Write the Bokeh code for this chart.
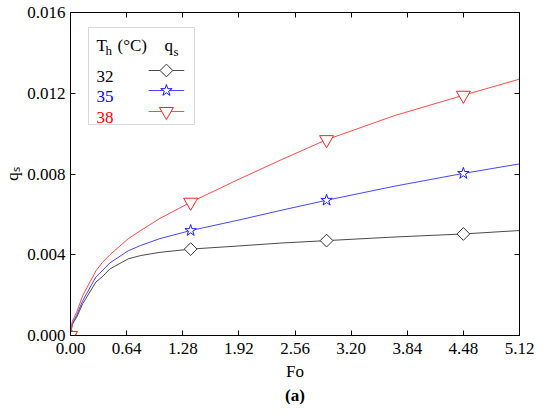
import numpy as np
from bokeh.plotting import figure
from bokeh.models import FixedTicker, LinearAxis, Label, BoxAnnotation, Range1d, Title
from bokeh.embed import file_html
from bokeh.resources import INLINE

# ---------------- data ----------------
fo = [0.0, 0.02, 0.07, 0.14, 0.29, 0.36, 0.45, 0.66, 0.80, 1.02, 1.37, 1.90, 2.40, 2.92, 3.70, 4.48, 5.12]
q_32 = [0.0, 0.00055, 0.0009, 0.00158, 0.00265, 0.0029, 0.0033, 0.0038, 0.00396, 0.00412, 0.00428, 0.00443, 0.00458, 0.0047, 0.00488, 0.00503, 0.0052]
q_35 = [0.0, 0.0006, 0.0010, 0.00173, 0.0029, 0.0032, 0.0036, 0.0042, 0.00446, 0.0048, 0.0052, 0.0057, 0.0062, 0.0067, 0.0074, 0.00803, 0.0085]
q_38 = [0.0, 0.0007, 0.00115, 0.00198, 0.0032, 0.0036, 0.0040, 0.0048, 0.0052, 0.0058, 0.0066, 0.0077, 0.0087, 0.0097, 0.0109, 0.0119, 0.0127]
marker_fo = [0.0, 1.37, 2.92, 4.48]

series_names = ["32", "35", "38"]
x_ticks = [0.0, 0.64, 1.28, 1.92, 2.56, 3.20, 3.84, 4.48, 5.12]
x_tick_labels = ["0.00", "0.64", "1.28", "1.92", "2.56", "3.20", "3.84", "4.48", "5.12"]
y_ticks = [0.0, 0.004, 0.008, 0.012, 0.016]
y_tick_labels = ["0.000", "0.004", "0.008", "0.012", "0.016"]

# ---------------- layout ----------------
W, H = 534, 404
ML, MR, MT, MB = 65, 15, 12, 69
FW, FH = W - ML - MR, H - MT - MB
XMAX, YMAX = 5.12, 0.016
FONT = "Liberation Serif"

p = figure(width=W, height=H, output_backend="svg", toolbar_location=None,
           x_range=Range1d(0, XMAX), y_range=Range1d(0, YMAX),
           min_border_left=ML, min_border_right=MR, min_border_top=MT, min_border_bottom=MB,
           x_axis_location=None, y_axis_location=None)
p.xgrid.visible = False
p.ygrid.visible = False
p.outline_line_color = "black"
p.outline_line_width = 1
p.background_fill_color = "white"
p.border_fill_color = "white"

def make_axis(ticks, labels, show, standoff=5):
    ax = LinearAxis(ticker=FixedTicker(ticks=ticks))
    ax.major_label_overrides = {t: (l if show else "") for t, l in zip(ticks, labels)}
    ax.major_tick_in = 5
    ax.major_tick_out = 0
    ax.minor_tick_in = 0
    ax.minor_tick_out = 0
    ax.axis_line_color = "black"
    ax.major_tick_line_color = "black"
    ax.major_label_text_font = FONT
    ax.major_label_text_font_style = "normal"
    ax.major_label_text_color = "black"
    ax.axis_label_text_font = FONT
    ax.axis_label_text_font_size = "17px"
    ax.axis_label_text_font_style = "normal"
    ax.axis_label_text_color = "black"
    if show:
        ax.major_label_text_font_size = "17px"
        ax.major_label_standoff = standoff
    else:
        ax.major_label_text_font_size = "0px"
        ax.major_label_standoff = 0
    return ax

xb = make_axis(x_ticks, x_tick_labels, True, standoff=7)
xb.axis_label = "Fo"
xb.axis_label_standoff = 5
yl = make_axis(y_ticks, y_tick_labels, True, standoff=5)
yl.axis_label = "q\u209b"
yl.axis_label_standoff = 2
p.add_layout(xb, "below")
p.add_layout(yl, "left")
p.add_layout(make_axis(x_ticks, x_tick_labels, False), "above")
p.add_layout(make_axis(y_ticks, y_tick_labels, False), "right")
p.add_layout(Title(text="(a)", align="center", text_font=FONT, text_font_size="17px",
                   text_font_style="bold", text_color="black", standoff=0, offset=0), "below")

# ---------------- series ----------------
styles = [
    dict(q=q_32, line="#4a4a4a", mcol="#333333", marker="square", size=9, angle=np.pi / 4),
    dict(q=q_35, line="#4646ff", mcol="#1a1aff", marker="star", size=12, angle=0.0),
    dict(q=q_38, line="#ff4a4a", mcol="#ff2020", marker="inverted_triangle", size=14, angle=0.0),
]
midx = [fo.index(v) for v in marker_fo]
for s in styles:
    p.line(fo, s["q"], line_color=s["line"], line_width=1)
    p.scatter([fo[i] for i in midx], [s["q"][i] for i in midx], marker=s["marker"], size=s["size"],
              angle=s["angle"], line_color=s["mcol"], fill_color="white", line_width=1)

# ---------------- legend (hand-built, frame-relative pixels) ----------------
px2x = XMAX / FW
px2y = YMAX / FH
box = BoxAnnotation(left=18, right=124, top=308, bottom=211,
                    left_units="screen", right_units="screen", top_units="screen", bottom_units="screen",
                    fill_color="white", fill_alpha=1.0, line_color="#7f7f7f", line_width=1, level="underlay")
p.add_layout(box)

def lab(x, y, text, size="17px", color="black", align="left", baseline="alphabetic"):
    p.add_layout(Label(x=x, y=y, x_units="screen", y_units="screen", text=text,
                       text_font=FONT, text_font_size=size, text_color=color,
                       text_align=align, text_baseline=baseline))

lab(26, 290, "T")
lab(35, 285, "h", size="13px")
lab(47, 290, "(°C)")
lab(94, 290, "q")
lab(103, 284, "s", size="13px")

row_sy = [265, 245, 224]
text_cols = ["black", "#0000ff", "#ff0000"]
for name, sy, tc, s in zip(series_names, row_sy, text_cols, styles):
    lab(26, sy - 6, name, color=tc)
    y = sy * px2y
    p.line([79 * px2x, 115 * px2x], [y, y], line_color=s["line"], line_width=1)
    p.scatter([97 * px2x], [y], marker=s["marker"], size=s["size"], angle=s["angle"],
              line_color=s["mcol"], fill_color="white", line_width=1)

open("out.html", "w").write(file_html(p, INLINE))
